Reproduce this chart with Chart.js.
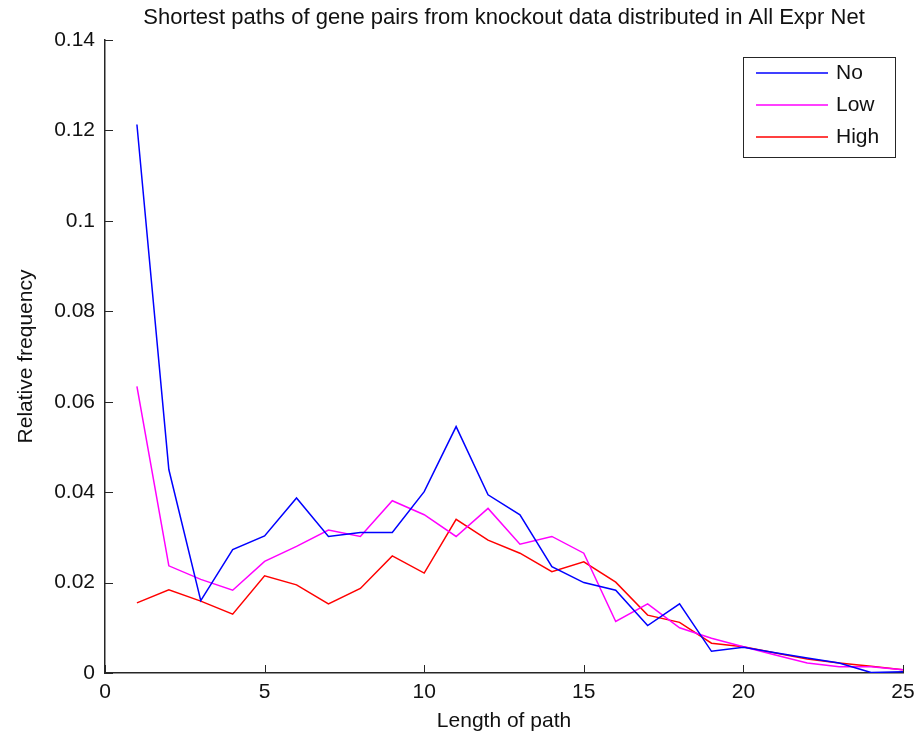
<!DOCTYPE html>
<html>
<head>
<meta charset="utf-8">
<script src="https://cdn.jsdelivr.net/npm/chart.js@4.4.0/dist/chart.umd.min.js"></script>
<style>
  html, body { margin: 0; padding: 0; background: #fff; }
  #wrap { width: 916px; height: 740px; }
</style>
</head>
<body>
<div id="wrap"><canvas id="chart" width="916" height="740"></canvas></div>
<script>
// path lengths and relative frequencies
const pathLengths = [1, 2, 3, 4, 5, 6, 7, 8, 9, 10, 11, 12, 13, 14, 15, 16, 17, 18, 19, 20, 21, 22, 23, 24, 25];
const noExpr = [0.1213, 0.0450, 0.0160, 0.0273, 0.0303, 0.0387, 0.0302, 0.0311, 0.0311, 0.0401, 0.0545, 0.0394, 0.0350,
    0.0235, 0.0200, 0.0183, 0.0105, 0.0153, 0.0048, 0.0057, 0.0045, 0.0033, 0.0022, 0.0001, 0.0003];
const lowExpr = [0.0634, 0.0237, 0.0207, 0.0183, 0.0247, 0.0280, 0.0316, 0.0302, 0.0381, 0.0350, 0.0302, 0.0364, 0.0285,
    0.0302, 0.0265, 0.0114, 0.0153, 0.0100, 0.0077, 0.0058, 0.0040, 0.0022, 0.0014, 0.0014, 0.0007];
const highExpr = [0.0155, 0.0184, 0.0159, 0.0130, 0.0215, 0.0195, 0.0153, 0.0187, 0.0259, 0.0221, 0.0340, 0.0294, 0.0265,
    0.0224, 0.0246, 0.0201, 0.0128, 0.0112, 0.0066, 0.0058, 0.0044, 0.0031, 0.0022, 0.0015, 0.0007];
const seriesNames = ['No', 'Low', 'High'];
const xTicks = [0, 5, 10, 15, 20, 25];
const yTicks = [0, 0.02, 0.04, 0.06, 0.08, 0.1, 0.12, 0.14];

const font = 'Liberation Sans, Arial, Helvetica, sans-serif';
const axisColor = '#262626';

function toPoints(values) {
    return values.map((v, i) => ({ x: pathLengths[i], y: v }));
}

// MATLAB style ticks pointing into the plot
const innerTicks = {
    id: 'innerTicks',
    afterDatasetsDraw(chart) {
        const ctx = chart.ctx;
        const area = chart.chartArea;
        const xs = chart.scales.x, ys = chart.scales.y;
        ctx.save();
        ctx.strokeStyle = axisColor;
        ctx.lineWidth = 1;
        ctx.beginPath();
        xTicks.forEach(t => {
            const px = Math.round(xs.getPixelForValue(t)) + 0.5;
            ctx.moveTo(px, area.bottom);
            ctx.lineTo(px, area.bottom - 8);
        });
        yTicks.forEach(t => {
            const py = Math.round(ys.getPixelForValue(t)) + 0.5;
            ctx.moveTo(area.left, py);
            ctx.lineTo(area.left + 8, py);
        });
        ctx.stroke();
        ctx.restore();
    }
};

// boxed legend inside the upper right corner
const boxLegend = {
    id: 'boxLegend',
    afterDraw(chart) {
        const ctx = chart.ctx;
        const area = chart.chartArea;
        const x0 = area.right - 160, y0 = area.top + 17, w = 152, h = 100;
        ctx.save();
        ctx.fillStyle = '#fff';
        ctx.fillRect(x0, y0, w, h);
        ctx.strokeStyle = axisColor;
        ctx.lineWidth = 1;
        ctx.strokeRect(x0 + 0.5, y0 + 0.5, w, h);
        ctx.font = '21px ' + font;
        ctx.textBaseline = 'middle';
        chart.data.datasets.forEach((ds, i) => {
            const y = y0 + 16 + i * 32;
            ctx.strokeStyle = ds.borderColor;
            ctx.lineWidth = 1.5;
            ctx.beginPath();
            ctx.moveTo(x0 + 13, y);
            ctx.lineTo(x0 + 85, y);
            ctx.stroke();
            ctx.fillStyle = '#111';
            ctx.fillText(ds.label, x0 + 93, y);
        });
        ctx.restore();
    }
};

new Chart(document.getElementById('chart'), {
    type: 'line',
    data: {
        datasets: [
            { label: seriesNames[0], data: toPoints(noExpr), borderColor: '#0000ff' },
            { label: seriesNames[1], data: toPoints(lowExpr), borderColor: '#ff00ff' },
            { label: seriesNames[2], data: toPoints(highExpr), borderColor: '#ff0000' }
        ]
    },
    options: {
        responsive: false,
        animation: false,
        layout: { padding: { top: 40, right: 13, left: 0, bottom: 0 } },
        elements: {
            line: { borderWidth: 1.5, tension: 0, fill: false },
            point: { radius: 0 }
        },
        plugins: {
            legend: { display: false },
            tooltip: { enabled: false },
            title: { display: false }
        },
        scales: {
            x: {
                type: 'linear',
                min: 0, max: 25,
                afterBuildTicks: s => { s.ticks = xTicks.map(v => ({ value: v })); },
                afterFit: s => { s.height = 67; s.paddingLeft = 0; s.paddingRight = 0; },
                grid: { display: false, drawTicks: false },
                border: { display: true, color: axisColor, width: 1.5 },
                ticks: { color: '#111', padding: 7, font: { family: font, size: 21 }, callback: v => String(v) },
                title: { display: true, text: 'Length of path', color: '#111', padding: { top: 4, bottom: 6 }, font: { family: font, size: 21 } }
            },
            y: {
                type: 'linear',
                min: 0, max: 0.14,
                afterBuildTicks: s => { s.ticks = yTicks.map(v => ({ value: v })); },
                afterFit: s => { s.width = 105; s.paddingTop = 0; s.paddingBottom = 0; },
                grid: { display: false, drawTicks: false },
                border: { display: true, color: axisColor, width: 1.5 },
                ticks: { color: '#111', padding: 10, font: { family: font, size: 21 }, callback: v => String(+v.toFixed(2)) },
                title: { display: true, text: 'Relative frequency', color: '#111', padding: { top: 14, bottom: 0 }, font: { family: font, size: 21 } }
            }
        }
    },
    plugins: [innerTicks, boxLegend, {
        id: 'topTitle',
        afterDraw(chart) {
            const ctx = chart.ctx;
            const area = chart.chartArea;
            ctx.save();
            ctx.font = '22px ' + font;
            ctx.fillStyle = '#111';
            ctx.textAlign = 'center';
            ctx.textBaseline = 'middle';
            ctx.fillText('Shortest paths of gene pairs from knockout data distributed in All Expr Net', (area.left + area.right) / 2, 18);
            ctx.restore();
        }
    }, {
        id: 'whiteBg',
        beforeDraw(chart) {
            const ctx = chart.ctx;
            ctx.save();
            ctx.fillStyle = '#fff';
            ctx.fillRect(0, 0, chart.width, chart.height);
            ctx.restore();
        }
    }]
});
</script>
</body>
</html>
